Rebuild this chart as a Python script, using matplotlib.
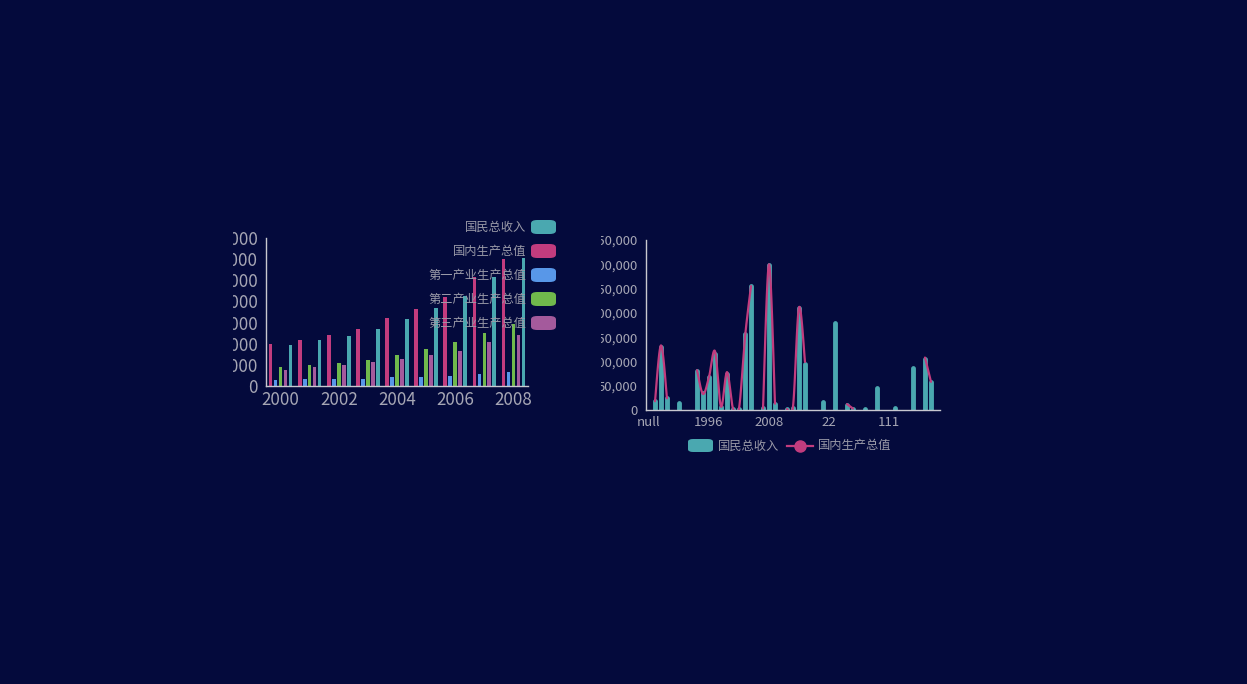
import matplotlib
matplotlib.use("Agg")
from matplotlib import pyplot as plt
from matplotlib.patches import FancyBboxPatch, Rectangle
from matplotlib.lines import Line2D
import numpy as np

plt.rcParams["font.family"] = ["Noto Sans CJK SC", "DejaVu Sans"]

# ---- left chart data (China national accounts, 2000-2008) ----
years = ["2000", "2001", "2002", "2003", "2004", "2005", "2006", "2007", "2008"]
gdp = [98300, 108500, 119500, 135300, 159700, 182500, 210800, 258000, 299700]
primary = [15000, 15700, 16500, 17300, 20400, 21200, 22800, 27500, 33000]
secondary = [44000, 48800, 53500, 62100, 73900, 86500, 103000, 124300, 145500]
tertiary = [38500, 44000, 49500, 55800, 63700, 72400, 83400, 103000, 120300]
gni = [96700, 107700, 118000, 134500, 158100, 183300, 212400, 258000, 302800]
left_legend = ["国民总收入", "国内生产总值", "第一产业生产总值", "第二产业生产总值", "第三产业生产总值"]
left_ticks = [0, 50000, 100000, 150000, 200000, 250000, 300000, 350000]

# ---- right chart data (49 categories, many empty) ----
n_cat = 49
cat_labels = {0: "null", 10: "1996", 20: "2008", 30: "22", 40: "111"}
gni_right = {1: 19000, 2: 129000, 3: 24000, 5: 14000, 8: 80000, 9: 34000, 10: 67000,
             11: 116000, 12: 7000, 13: 75000, 14: 2000, 15: 2000, 16: 157000,
             17: 255000, 19: 5000, 20: 298000, 21: 13000, 23: 3000, 24: 5000,
             25: 210000, 26: 95000, 29: 16000, 31: 180000, 33: 9500, 34: 3000,
             36: 3000, 38: 46000, 41: 4000, 44: 86000, 46: 106000, 47: 57000}
gdp_right = {1: 18000, 2: 133000, 3: 24000, 8: 82000, 9: 33000, 10: 68000, 11: 121000,
             12: 7000, 13: 78000, 14: 3000, 15: 3000, 16: 150000, 17: 255000,
             19: 3000, 20: 300000, 21: 13000, 23: 2000, 24: 7000, 25: 211000,
             26: 99000, 33: 12000, 34: 3000, 46: 108000, 47: 58000}
right_ticks = [0, 50000, 100000, 150000, 200000, 250000, 300000, 350000]

BG = "#040a3c"
TEAL = "#4aa8b0"
PINK = "#c23c7e"
BLUE = "#5897e8"
GREEN = "#70b94c"
PURPLE = "#a45a9c"
TXT = "#a6a6b4"
LEG = "#9a9aa8"
AXIS = "#c8c8d0"

W, H = 1247, 684
fig = plt.figure(figsize=(W / 100, H / 100), dpi=100, facecolor=BG)


def px_axes(x0, y0, x1, y1):
    return fig.add_axes([x0 / W, 1 - y1 / H, (x1 - x0) / W, (y1 - y0) / H])


def style_axes(ax):
    ax.set_facecolor("none")
    for s in ["top", "right"]:
        ax.spines[s].set_visible(False)
    for s in ["left", "bottom"]:
        ax.spines[s].set_color(AXIS)
        ax.spines[s].set_linewidth(1)
    ax.tick_params(length=0, colors=TXT)


def catmull(xs, ys, n=24):
    pts = np.column_stack([xs, ys]).astype(float)
    if len(pts) < 3:
        return pts[:, 0], pts[:, 1]
    out = []
    for i in range(len(pts) - 1):
        p0 = pts[max(i - 1, 0)]
        p1, p2 = pts[i], pts[i + 1]
        p3 = pts[min(i + 2, len(pts) - 1)]
        t = np.linspace(0, 1, n)[:, None]
        seg = 0.5 * ((2 * p1) + (-p0 + p2) * t + (2 * p0 - 5 * p1 + 4 * p2 - p3) * t ** 2
                     + (-p0 + 3 * p1 - 3 * p2 + p3) * t ** 3)
        out.append(seg)
    out = np.vstack(out)
    return out[:, 0], out[:, 1]


# ---------------- left chart ----------------
ax1 = px_axes(266, 238, 528, 386)
style_axes(ax1)
x = np.arange(len(years))
step = 0.171
bw = 0.125
for k, (vals, col) in enumerate([(gdp, PINK), (primary, BLUE), (secondary, GREEN),
                                 (tertiary, PURPLE), (gni, TEAL)]):
    ax1.bar(x + (k - 2) * step, vals, width=bw, color=col, zorder=2)
ax1.set_xlim(-0.5, len(years) - 0.5)
ax1.set_ylim(0, 350000)
ax1.set_yticks(left_ticks)
ax1.set_yticklabels([str(v) for v in left_ticks], fontsize=12.2, color=TXT)
ax1.set_xticks(x[::2])
ax1.set_xticklabels(years[::2], fontsize=12.2, color=TXT)
ax1.tick_params(axis="y", pad=5.8)
ax1.tick_params(axis="x", pad=3.5)

# left legend (text then rounded swatch, right side)
for i, (lab, col) in enumerate(zip(left_legend, [TEAL, PINK, BLUE, GREEN, PURPLE])):
    cy = 227 + i * 24
    fig.patches.append(FancyBboxPatch((531 / W, 1 - (cy + 7) / H), 25 / W, 14 / H,
                                      boxstyle="round,pad=0,rounding_size=0.005",
                                      transform=fig.transFigure, facecolor=col,
                                      edgecolor="none", zorder=5))
    fig.text(526 / W, 1 - cy / H, lab, ha="right", va="center", fontsize=8.8,
             color=LEG, zorder=6)

# ---------------- right chart ----------------
ax2 = px_axes(646, 240, 940, 410)
style_axes(ax2)
cx = np.arange(n_cat)
bars = np.full(n_cat, np.nan)
for k, v in gni_right.items():
    bars[k] = v
line = np.full(n_cat, np.nan)
for k, v in gdp_right.items():
    line[k] = v

mask = ~np.isnan(bars)
bar_lines = ax2.vlines(cx[mask], 0, bars[mask], colors=TEAL, linewidth=3.5, zorder=2)
bar_lines.set_capstyle("round")

# smooth line drawn per contiguous run of values
valid = ~np.isnan(line)
start = None
for i in range(n_cat + 1):
    ok = i < n_cat and valid[i]
    if ok and start is None:
        start = i
    elif not ok and start is not None:
        sx, sy = catmull(cx[start:i], line[start:i])
        ax2.plot(sx, sy, color=PINK, linewidth=1.6, zorder=3, solid_capstyle="round")
        start = None

ax2.set_xlim(-0.5, n_cat - 0.5)
ax2.set_ylim(0, 350000)
ax2.set_yticks(right_ticks)
ax2.set_yticklabels([f"{v:,}" for v in right_ticks], fontsize=9.5, color=TXT)
ax2.set_xticks(list(cat_labels.keys()))
ax2.set_xticklabels(list(cat_labels.values()), fontsize=9.5, color=TXT)
ax2.tick_params(axis="y", pad=5.8)
ax2.tick_params(axis="x", pad=4)

# right legend (below)
fig.patches.append(FancyBboxPatch((688 / W, 1 - 452 / H), 25 / W, 13 / H,
                                  boxstyle="round,pad=0,rounding_size=0.004",
                                  transform=fig.transFigure, facecolor=TEAL,
                                  edgecolor="none", zorder=5))
fig.text(718 / W, 1 - 446 / H, "国民总收入", ha="left", va="center", fontsize=8.8, color=LEG)
fig.lines.append(Line2D([787 / W, 813 / W], [1 - 446 / H, 1 - 446 / H], transform=fig.transFigure,
                        color=PINK, linewidth=1.6))
fig.lines.append(Line2D([800 / W], [1 - 446 / H], transform=fig.transFigure, marker="o",
                        markersize=8, color=PINK, linestyle="none"))
fig.text(818 / W, 1 - 446 / H, "国内生产总值", ha="left", va="center", fontsize=8.8, color=LEG)

# containers clip the long y labels on their left edge
fig.patches.append(Rectangle((0, 1 - 400 / H), 233 / W, 175 / H, transform=fig.transFigure,
                             facecolor=BG, edgecolor="none", zorder=20))
fig.patches.append(Rectangle((560 / W, 1 - 420 / H), 41 / W, 190 / H, transform=fig.transFigure,
                             facecolor=BG, edgecolor="none", zorder=20))

fig.savefig("out.png", dpi=100, facecolor=BG)
